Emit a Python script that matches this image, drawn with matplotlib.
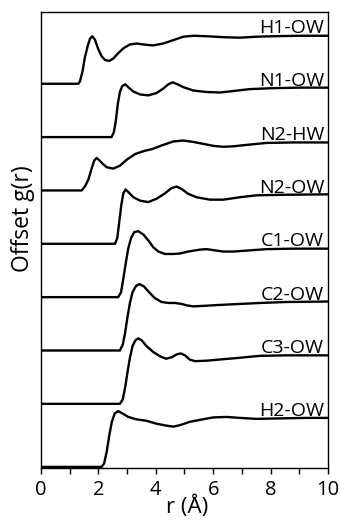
import matplotlib
matplotlib.use("Agg")
import matplotlib.pyplot as plt
from matplotlib.ticker import MultipleLocator

plt.rcParams['font.family'] = ['Open Sans', 'DejaVu Sans']

# g(r) curves, bottom to top
names = ['H2-OW', 'C3-OW', 'C2-OW', 'C1-OW', 'N2-OW', 'N2-HW', 'N1-OW', 'H1-OW']
offsets = [0, 1.3, 2.4, 3.5, 4.6, 5.7, 6.8, 7.9]

r_h2 = [0, 2.11, 2.20, 2.29, 2.38, 2.47, 2.57, 2.69, 2.85, 3.04, 3.33, 3.68, 4.03, 4.38, 4.61,
        4.84, 5.19, 5.54, 6.00, 6.47, 6.93, 7.51, 8.33, 9.26, 10.0]
g_h2 = [0, 0, 0.07, 0.31, 0.65, 0.93, 1.10, 1.15, 1.10, 1.03, 0.98, 0.95, 0.89, 0.85, 0.83,
        0.86, 0.93, 0.97, 1.02, 1.03, 1.01, 0.99, 1.00, 1.01, 1.01]

r_c3 = [0, 2.75, 2.85, 2.94, 3.02, 3.10, 3.19, 3.29, 3.39, 3.51, 3.68, 3.91, 4.15, 4.36, 4.55,
        4.73, 4.87, 5.02, 5.19, 5.37, 5.77, 6.35, 6.93, 7.63, 8.56, 10.0]
g_c3 = [0, 0, 0.09, 0.36, 0.67, 0.95, 1.19, 1.31, 1.35, 1.31, 1.19, 1.07, 0.98, 0.93, 0.96,
        1.02, 1.04, 1.00, 0.91, 0.88, 0.89, 0.92, 0.95, 0.99, 1.00, 1.00]

r_c2 = [0, 2.75, 2.85, 2.93, 3.01, 3.10, 3.19, 3.31, 3.43, 3.59, 3.77, 3.97, 4.20, 4.44, 4.67,
        4.90, 5.08, 5.31, 5.66, 6.24, 6.93, 7.63, 8.56, 10.0]
g_c2 = [0, 0, 0.12, 0.36, 0.67, 0.98, 1.20, 1.33, 1.37, 1.32, 1.20, 1.08, 1.00, 0.98, 0.98,
        0.96, 0.93, 0.91, 0.92, 0.94, 0.96, 0.98, 1.00, 1.01]

r_c1 = [0, 2.69, 2.79, 2.87, 2.96, 3.04, 3.14, 3.25, 3.39, 3.57, 3.74, 3.91, 4.09, 4.32, 4.61,
        4.84, 5.13, 5.54, 5.77, 6.00, 6.35, 6.70, 7.17, 7.86, 8.79, 10.0]
g_c1 = [0, 0, 0.10, 0.38, 0.72, 1.00, 1.22, 1.34, 1.36, 1.29, 1.17, 1.03, 0.94, 0.89, 0.89,
        0.90, 0.94, 0.98, 0.99, 0.97, 0.94, 0.94, 0.96, 0.99, 1.00, 1.00]

r_n2o = [0, 2.58, 2.66, 2.73, 2.80, 2.87, 2.95, 3.04, 3.22, 3.45, 3.74, 4.03, 4.32, 4.55, 4.73,
         4.90, 5.13, 5.42, 5.89, 6.35, 6.93, 7.51, 8.33, 10.0]
g_n2o = [0, 0, 0.12, 0.46, 0.80, 1.04, 1.12, 1.07, 0.96, 0.89, 0.86, 0.93, 1.04, 1.15, 1.18,
         1.13, 1.03, 0.96, 0.91, 0.91, 0.96, 1.00, 1.01, 1.02]

r_n2h = [0, 1.42, 1.53, 1.65, 1.77, 1.86, 1.94, 2.04, 2.15, 2.29, 2.52, 2.75, 2.98, 3.28, 3.57,
         3.91, 4.26, 4.61, 4.96, 5.31, 5.66, 6.00, 6.35, 6.70, 7.17, 7.86, 8.79, 10.0]
g_n2h = [0, 0, 0.08, 0.22, 0.46, 0.62, 0.67, 0.62, 0.55, 0.48, 0.45, 0.51, 0.63, 0.75, 0.81,
         0.86, 0.94, 1.01, 1.03, 1.00, 0.96, 0.92, 0.90, 0.91, 0.94, 0.98, 0.99, 0.99]

r_n1 = [0, 2.46, 2.54, 2.61, 2.68, 2.75, 2.83, 2.94, 3.04, 3.22, 3.45, 3.74, 4.03, 4.26, 4.44,
        4.59, 4.75, 4.96, 5.31, 5.77, 6.24, 6.70, 7.28, 8.10, 9.02, 10.0]
g_n1 = [0, 0, 0.10, 0.34, 0.69, 0.93, 1.05, 1.09, 1.03, 0.94, 0.88, 0.86, 0.91, 1.00, 1.09,
        1.13, 1.09, 1.03, 0.96, 0.93, 0.92, 0.95, 0.99, 1.01, 1.02, 1.02]

r_h1 = [0, 1.30, 1.36, 1.45, 1.53, 1.63, 1.71, 1.79, 1.88, 2.00, 2.11, 2.23, 2.38, 2.52, 2.69,
        2.87, 3.10, 3.33, 3.57, 3.91, 4.26, 4.61, 4.96, 5.31, 5.77, 6.35, 6.93, 7.51, 8.10, 9.02, 10.0]
g_h1 = [0, 0, 0.05, 0.26, 0.54, 0.78, 0.93, 0.98, 0.91, 0.71, 0.57, 0.49, 0.47, 0.52, 0.63,
        0.73, 0.81, 0.83, 0.81, 0.79, 0.83, 0.90, 0.97, 0.99, 0.98, 0.96, 0.95, 0.97, 0.98, 0.99, 0.99]

curves = [(r_h2, g_h2), (r_c3, g_c3), (r_c2, g_c2), (r_c1, g_c1),
          (r_n2o, g_n2o), (r_n2h, g_n2h), (r_n1, g_n1), (r_h1, g_h1)]

fig = plt.figure(figsize=(3.41, 5.21), dpi=100)
ax = fig.add_axes([0.120, 0.102, 0.842, 0.875])

for name, off, (r, g) in zip(names, offsets, curves):
    ax.plot(r, [v + off for v in g], color='black', lw=1.7, solid_joinstyle='round')
    ax.text(9.86, off + 1.05, name, ha='right', va='baseline', fontsize=14)

ax.set_xlim(0, 10)
ax.set_ylim(-0.02, 9.38)
ax.set_yticks([])
ax.xaxis.set_major_locator(MultipleLocator(2))
ax.xaxis.set_minor_locator(MultipleLocator(1))
ax.tick_params(axis='x', which='both', length=4, width=1, direction='out', labelsize=14.5, pad=4.5)
for s in ax.spines.values():
    s.set_linewidth(1.0)

ax.set_xlabel('r (Å)', fontsize=16)
ax.xaxis.set_label_coords(0.51, -0.06)
ax.set_ylabel('Offset g(r)', fontsize=16.5)
ax.yaxis.set_label_coords(-0.022, 0.546)

fig.savefig('out.png', dpi=100)
